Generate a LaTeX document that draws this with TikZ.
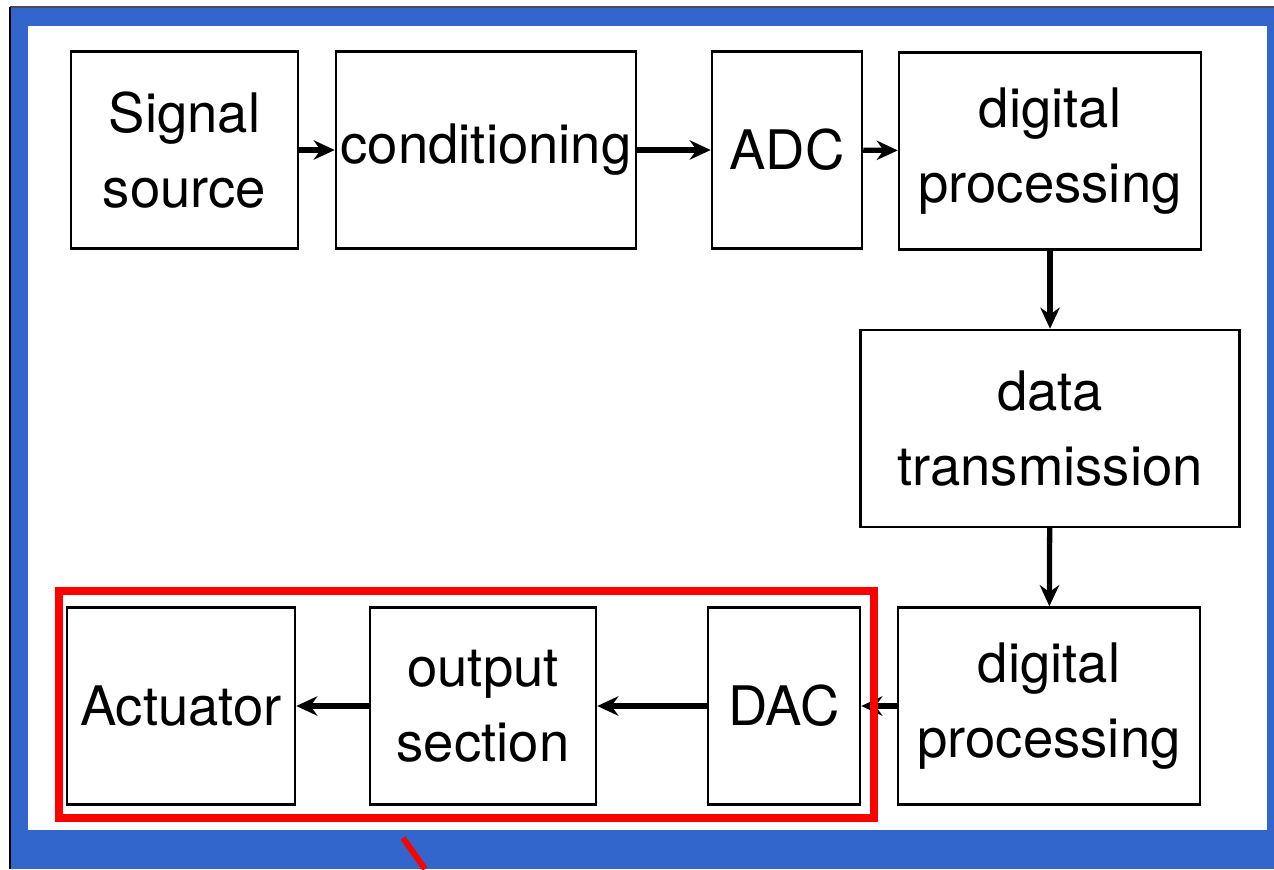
\documentclass[tikz,border=0pt]{standalone}
\usepackage{fontspec}
\setmainfont{TeX Gyre Heros}
\usetikzlibrary{arrows.meta}
\definecolor{slideblue}{RGB}{51,102,204}

\begin{document}
\begin{tikzpicture}[>={Stealth[length=6pt,width=5.5pt]},
  every node/.style={font=\fontsize{15.5}{21.5}\selectfont},
  block/.style={draw,line width=0.7pt,align=center,inner sep=0pt,minimum height=1.97cm},
  flow/.style={->,line width=1.5pt}]
\useasboundingbox (0,0) rectangle (12.74,8.69);
% slide frame
\fill[slideblue] (0.10,0) rectangle (12.74,8.62);
\fill[white] (0.28,0.39) rectangle (12.67,8.43);
\draw[black!70,line width=0.5pt] (0.10,8.62) -- (12.74,8.62);
\draw[line width=0.8pt] (0.10,0) -- (0.10,8.62);

% top row
\node[block,minimum width=2.27cm] (sig) at (1.845,7.19) {Signal\\source};
\node[block,minimum width=3.00cm] (cond) at (4.86,7.19) {conditioning};
\node[block,minimum width=1.50cm] (adc) at (7.87,7.19) {ADC};
\node[block,minimum width=3.02cm] (dpa) at (10.50,7.18) {digital\\processing};
% right column
\node[block,minimum width=3.79cm] (trans) at (10.50,4.405) {data\\transmission};
% bottom row
\node[block,minimum width=3.02cm] (dpb) at (10.49,1.63) {digital\\processing};
\node[block,minimum width=1.52cm] (dac) at (7.84,1.63) {DAC};
\node[block,minimum width=2.26cm] (outs) at (4.83,1.63) {output\\section};
\node[block,minimum width=2.28cm] (act) at (1.81,1.63) {Actuator};

\draw[flow] (sig) -- (cond);
\draw[flow] (cond) -- (adc);
\draw[flow] (adc) -- (dpa);
\draw[flow] (dpa) -- (trans);
\draw[flow] (trans) -- (dpb);
\draw[flow] (dpb) -- (dac);
\draw[flow] (dac) -- (outs);
\draw[flow] (outs) -- (act);

% red highlight
\draw[red,line width=2.3pt] (0.59,0.51) rectangle (8.74,2.78);
\draw[red,line width=1.7pt] (4.03,0.31) -- (4.25,0);
\end{tikzpicture}
\end{document}
